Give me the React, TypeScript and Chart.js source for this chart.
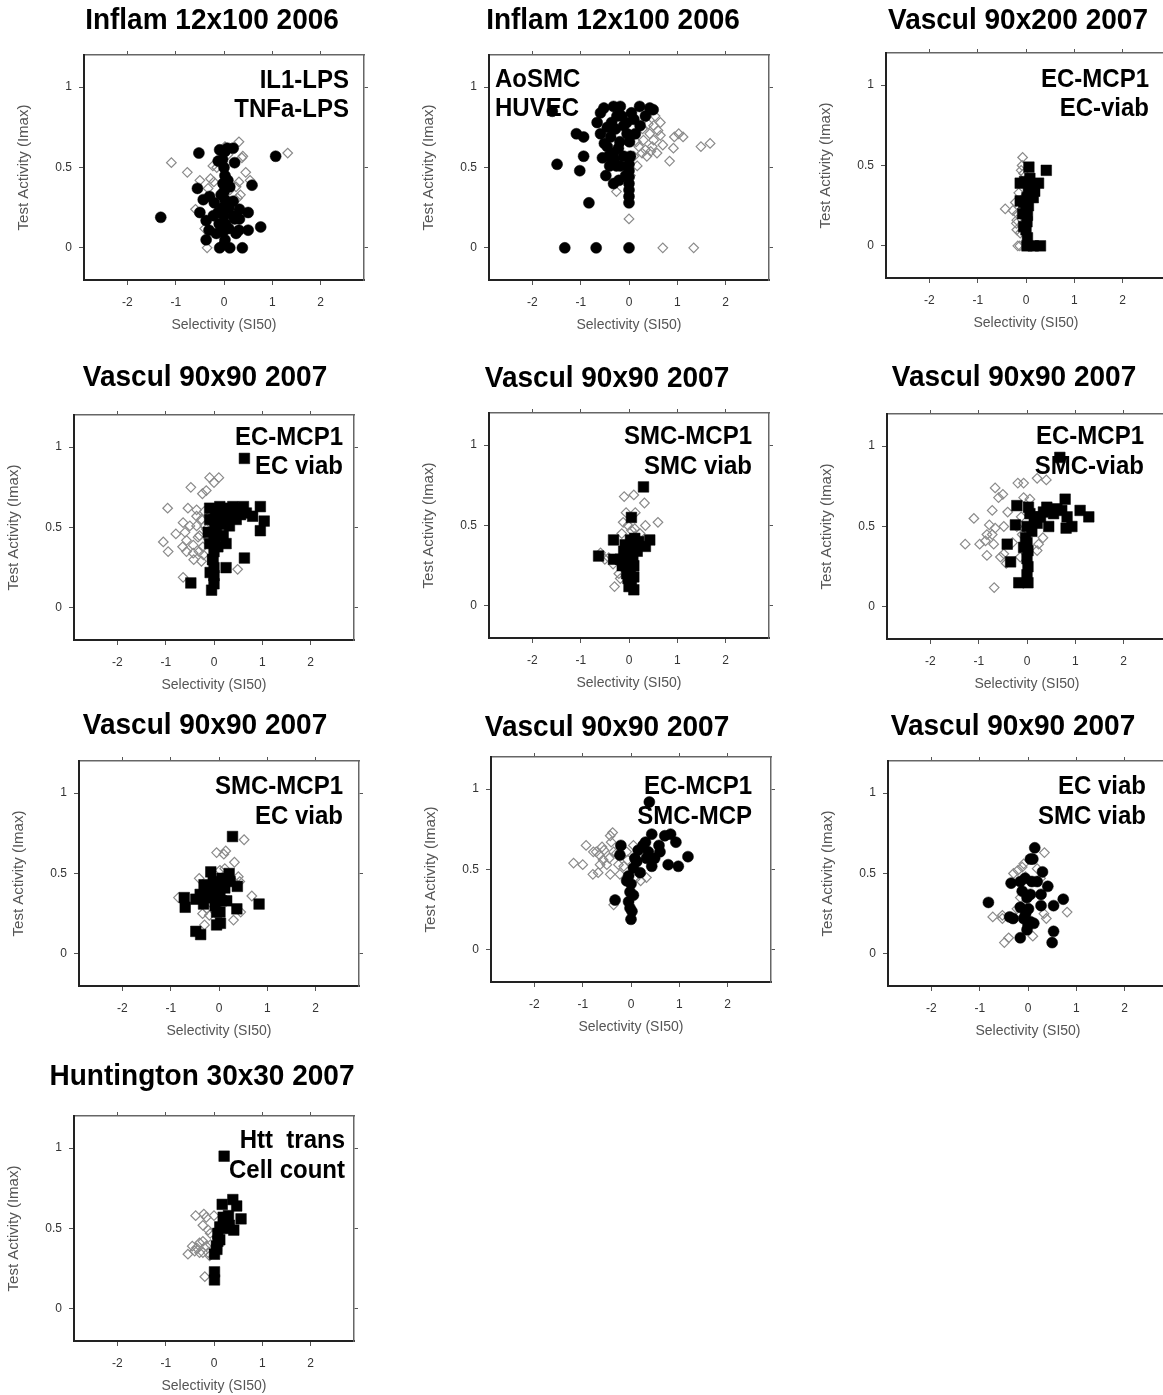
import React, { useEffect, useRef } from "react";
import { Chart, registerables } from "chart.js";

Chart.register(...registerables);

const FONT = "'Liberation Sans', Arial, Helvetica, sans-serif";

// ---------------- data ----------------
const xTickValues = [-2, -1, 0, 1, 2];
const yTickValues = [0, 0.5, 1];
const xLimits = [-2.9, 2.9];
const yLimits = [-0.2, 1.2];
const xAxisTitle = "Selectivity (SI50)";
const yAxisTitle = "Test Activity (Imax)";

const panelTitles = [
  "Inflam 12x100 2006",
  "Inflam 12x100 2006",
  "Vascul 90x200 2007",
  "Vascul 90x90 2007",
  "Vascul 90x90 2007",
  "Vascul 90x90 2007",
  "Vascul 90x90 2007",
  "Vascul 90x90 2007",
  "Vascul 90x90 2007",
  "Huntington 30x30 2007",
];

const panelLabels = [
  ["IL1-LPS", "TNFa-LPS"],
  ["AoSMC", "HUVEC"],
  ["EC-MCP1", "EC-viab"],
  ["EC-MCP1", "EC viab"],
  ["SMC-MCP1", "SMC viab"],
  ["EC-MCP1", "SMC-viab"],
  ["SMC-MCP1", "EC viab"],
  ["EC-MCP1", "SMC-MCP"],
  ["EC viab", "SMC viab"],
  ["Htt  trans", "Cell count"],
];

const filledMarkers = ["circle", "circle", "rect", "rect", "rect", "rect", "rect", "circle", "circle", "rect"];

const p1Filled = [[-1.31,0.19],[1.07,0.57],[-0.52,0.59],[0.58,0.39],[-0.55,0.37],[0.76,0.13],[0.38,0],[0.5,0.22],[0.5,0.11],[0.31,0.11],[0.32,0.24],[0.19,0.29],[0.19,0.62],[0.22,0.53],[-0.12,0.54],[-0.09,0.61],[-0.43,0.3],[-0.3,0.32],[-0.5,0.22],[-0.37,0.17],[-0.31,0.11],[-0.16,0.09],[0.12,0.38],[0.19,0.2],[0.22,0.18],[-0.37,0.05],[0.32,0.18],[0.12,0],[-0.09,0],[0,0.02],[0.02,0.05],[-0.02,0.1],[0.03,0.15],[0,0.2],[-0.03,0.25],[0.02,0.3],[0,0.35],[-0.02,0.4],[0.02,0.45],[0,0.5],[-0.03,0.55],[0.02,0.6],[0.07,0.62],[-0.12,0.22],[0.1,0.12],[-0.2,0.28],[0.1,0.25],[-0.1,0.15],[-0.22,0.2],[0.08,0.42],[-0.06,0.33],[0.25,0.09]];
const p1Open = [[-1.09,0.53],[-0.76,0.47],[-0.5,0.42],[0.31,0.66],[1.32,0.59],[0.39,0.57],[0.45,0.47],[0.54,0.42],[0.31,0.41],[0.34,0.33],[0.12,0.36],[-0.59,0.24],[-0.4,0.12],[-0.35,0],[0.1,0],[-0.21,0.41],[-0.33,0.37],[-0.23,0.51],[0.02,0.63],[0.08,0.58],[0.37,0.56],[0.25,0.38],[-0.28,0.43],[0.28,0.31],[0.05,0.13],[-0.15,0.5]];

const p2Filled = [[-1.49,0.52],[-1.33,0],[-0.68,0],[0,0],[-0.83,0.28],[-0.32,0.4],[-1.02,0.48],[-0.94,0.57],[-1.09,0.71],[-0.94,0.69],[-0.52,0.87],[-0.32,0.88],[-0.18,0.88],[0.22,0.88],[0.43,0.87],[0.5,0.86],[0.34,0.82],[-0.66,0.78],[-0.59,0.71],[-0.45,0.63],[-0.42,0.57],[-0.4,0.51],[-0.26,0.51],[-0.19,0.66],[0.01,0.66],[0.13,0.71],[-0.11,0.76],[-0.36,0.78],[0.03,0.57],[-0.07,0.45],[0,0.28],[0,0.32],[0,0.36],[0,0.4],[0,0.44],[0,0.48],[0,0.52],[-0.18,0.51],[0.1,0.8],[-0.25,0.82],[-0.59,0.84],[-0.51,0.65],[-0.32,0.59],[-0.04,0.71],[0.23,0.76],[-0.11,0.57],[-0.21,0.42],[-0.45,0.75],[-0.38,0.69],[-0.28,0.74],[-0.15,0.82],[-0.05,0.78],[0.05,0.84],[-0.55,0.56],[-0.48,0.45],[-0.3,0.55],[-0.22,0.62],[-1.59,0.85]];
const p2Open = [[-0.26,0.35],[0,0.18],[0.7,0],[1.34,0],[1.49,0.63],[1.68,0.65],[1.12,0.69],[1.03,0.71],[0.92,0.62],[0.84,0.54],[0.94,0.69],[0.7,0.64],[0.65,0.7],[0.65,0.78],[0.58,0.59],[0.48,0.63],[0.37,0.57],[0.17,0.51],[0.1,0.57],[0.37,0.82],[0.51,0.76],[0.3,0.67],[0.43,0.71],[0.2,0.63],[0.03,0.45],[0.51,0.67],[0.34,0.61],[0.27,0.59],[0.54,0.82],[0.45,0.6],[0.6,0.73],[0.28,0.74],[0.4,0.77],[0.15,0.66]];

const p3Filled = [[0.02,0],[0.15,0],[0.3,0],[0.42,0.47],[0.06,0.49],[-0.12,0.39],[0.26,0.39],[0.09,0.37],[0.09,0.31],[-0.12,0.28],[0.03,0.05],[0,0.1],[0.02,0.15],[0.03,0.19],[0,0.22],[-0.05,0.27],[0.02,0.3],[0.05,0.34],[0.12,0.36],[0.18,0.34],[0.15,0.3],[-0.03,0.4],[0.08,0.42],[-0.07,0.2],[-0.05,0.12],[0.05,0.25]];
const p3Open = [[-0.07,0.55],[-0.43,0.23],[-0.27,0.22],[-0.17,0],[-0.22,0.27],[-0.19,0.16],[-0.19,0.1],[-0.2,0.14],[-0.05,0.45],[-0.12,0.08],[-0.13,0],[-0.1,0.47],[-0.15,0.33],[-0.18,0.2],[-0.08,0.5]];

const p4Filled = [[-0.48,0.155],[-0.05,0.11],[0.63,0.93],[0.25,0.25],[0.63,0.31],[0.96,0.48],[1.04,0.54],[0.96,0.63],[0.8,0.57],[0.61,0.63],[0.39,0.63],[0.12,0.63],[-0.09,0.62],[0.25,0.57],[0.46,0.55],[0.32,0.51],[0.25,0.4],[0.19,0.45],[0.05,0.49],[-0.09,0.55],[-0.12,0.47],[-0.09,0.4],[0,0.15],[0,0.2],[0,0.25],[-0.03,0.3],[0,0.35],[0.03,0.4],[0,0.45],[0.02,0.5],[0,0.55],[0.03,0.6],[0.12,0.59],[0.39,0.59],[-0.02,0.3],[0.67,0.59],[0.2,0.62],[0.5,0.62],[0.15,0.52],[0.3,0.6],[0.55,0.58],[0.1,0.55],[0.08,0.38],[-0.08,0.22]];
const p4Open = [[-0.09,0.81],[0.1,0.81],[0,0.78],[-0.16,0.73],[-0.24,0.71],[-0.48,0.75],[-0.96,0.62],[-0.54,0.62],[-0.36,0.61],[-1.05,0.41],[-0.95,0.35],[-0.79,0.46],[-0.64,0.53],[-0.6,0.47],[-0.57,0.42],[-0.65,0.38],[-0.43,0.34],[-0.42,0.3],[-0.26,0.29],[-0.64,0.19],[0.49,0.24],[-0.3,0.45],[-0.36,0.51],[-0.23,0.38],[-0.36,0.57],[-0.26,0.55],[-0.19,0.51],[-0.5,0.51],[-0.43,0.39],[-0.31,0.35],[-0.57,0.35],[-0.16,0.49],[-0.2,0.6],[-0.33,0.44],[-0.12,0.43],[-0.22,0.33]];

const p5Filled = [[-0.63,0.31],[-0.32,0.41],[-0.32,0.29],[0.3,0.74],[0.05,0.55],[0.43,0.41],[0.34,0.37],[0.2,0.4],[-0.18,0.29],[0.03,0.41],[0,0.12],[0.05,0.14],[-0.02,0.17],[0.03,0.2],[0,0.23],[-0.03,0.27],[0.02,0.3],[0,0.34],[0.05,0.38],[0.1,0.1],[-0.11,0.34],[0.17,0.34],[0.1,0.25],[-0.14,0.25],[-0.08,0.38],[0.12,0.42],[-0.05,0.32],[0.08,0.3],[0.1,0.18],[-0.05,0.2]];
const p5Open = [[-0.3,0.12],[-0.33,0.26],[-0.1,0.68],[0.1,0.69],[0.32,0.64],[-0.06,0.58],[0.13,0.58],[-0.12,0.52],[0.34,0.5],[0.6,0.52],[0.12,0.48],[-0.59,0.33],[-0.5,0.29],[0.23,0.45],[-0.02,0.5],[-0.21,0.2],[-0.18,0.17],[-0.15,0.45],[-0.42,0.3],[0.05,0.47]];

const p6Filled = [[0.68,0.93],[-0.41,0.39],[-0.34,0.28],[-0.17,0.15],[0.02,0.15],[-0.24,0.51],[-0.21,0.63],[0.03,0.62],[0.06,0.58],[0,0.5],[-0.03,0.43],[-0.07,0.37],[0,0.2],[0.02,0.25],[0,0.3],[0.02,0.35],[0,0.4],[0.21,0.52],[0.28,0.56],[0.41,0.62],[0.45,0.5],[0.55,0.58],[0.62,0.61],[0.79,0.67],[0.72,0.6],[0.83,0.56],[0.93,0.5],[0.81,0.49],[1.1,0.6],[1.28,0.56],[0.34,0.59],[0.24,0.56],[0.5,0.6],[0.15,0.55],[0.1,0.47]];
const p6Open = [[-1.1,0.55],[-1.28,0.39],[-0.98,0.39],[-0.83,0.32],[-0.68,0.12],[-0.66,0.74],[-0.59,0.68],[-0.5,0.7],[-0.72,0.6],[-0.78,0.51],[-0.83,0.45],[-0.86,0.41],[-0.69,0.39],[-0.72,0.45],[-0.66,0.49],[-0.48,0.5],[-0.48,0.33],[-0.4,0.59],[-0.43,0.27],[-0.19,0.77],[-0.07,0.77],[0.21,0.8],[0.4,0.79],[-0.07,0.68],[0.06,0.67],[-0.12,0.56],[0.33,0.43],[0.21,0.35],[0.24,0.39],[-0.14,0.31],[-0.55,0.31],[-0.21,0.5],[-0.3,0.4],[-0.1,0.45]];

const p7Filled = [[0.28,0.73],[0.83,0.31],[-0.72,0.35],[-0.7,0.29],[-0.48,0.14],[-0.38,0.12],[-0.17,0.51],[-0.31,0.43],[-0.48,0.34],[0.37,0.28],[0.38,0.42],[0.21,0.5],[0.06,0.47],[-0.05,0.42],[-0.12,0.35],[-0.26,0.35],[-0.32,0.31],[0.02,0.39],[0.16,0.33],[-0.05,0.26],[0.02,0.26],[-0.05,0.18],[0.03,0.19],[-0.19,0.39],[0.12,0.41],[0.23,0.45],[-0.12,0.45],[-0.39,0.37],[0.05,0.33],[-0.08,0.3]];
const p7Open = [[0.52,0.71],[0.68,0.36],[-0.84,0.35],[-0.05,0.63],[0.14,0.64],[0.32,0.57],[-0.41,0.47],[-0.34,0.25],[-0.3,0.18],[0.3,0.21],[0.45,0.26],[0.4,0.48],[0.43,0.45],[0.02,0.52],[0.12,0.53],[-0.2,0.24],[-0.12,0.33],[0.1,0.62],[-0.25,0.28]];

const p8Filled = [[0.38,0.92],[0.43,0.72],[0.7,0.71],[0.82,0.72],[0.93,0.67],[1.18,0.58],[0.98,0.52],[0.77,0.53],[0.58,0.65],[0.6,0.61],[0.43,0.52],[0.32,0.57],[0.25,0.65],[0.15,0.62],[0.12,0.55],[0.05,0.51],[-0.05,0.46],[-0.09,0.43],[-0.02,0.36],[0.05,0.34],[-0.05,0.3],[-0.02,0.26],[0,0.19],[-0.33,0.31],[-0.21,0.65],[-0.23,0.59],[0.19,0.48],[0.36,0.61],[0.49,0.57],[0.3,0.67],[0.08,0.57],[0,0.41],[0.02,0.24]];
const p8Open = [[-1.19,0.54],[-1.0,0.53],[-0.93,0.65],[-0.79,0.47],[-0.72,0.61],[-0.65,0.59],[-0.58,0.56],[-0.56,0.62],[-0.41,0.67],[-0.38,0.73],[-0.43,0.71],[-0.36,0.61],[-0.5,0.53],[-0.43,0.47],[-0.26,0.53],[-0.36,0.28],[-0.23,0.47],[-0.07,0.56],[0.05,0.65],[0.2,0.43],[0.32,0.45],[0.08,0.44],[-0.64,0.53],[-0.78,0.61],[-0.6,0.64],[-0.3,0.6],[-0.09,0.61],[-0.15,0.52],[-0.68,0.48],[-0.45,0.57]];

const p9Filled = [[0.14,0.66],[-0.82,0.32],[-0.35,0.44],[-0.38,0.23],[-0.31,0.22],[-0.16,0.1],[0.5,0.07],[0.53,0.14],[0.53,0.3],[0.73,0.34],[0.41,0.42],[0.3,0.51],[0.05,0.59],[0.1,0.59],[0.27,0.3],[0.27,0.37],[0.19,0.45],[-0.06,0.47],[-0.16,0.45],[-0.12,0.39],[-0.02,0.35],[0.05,0.37],[-0.16,0.29],[0.01,0.28],[-0.09,0.22],[0,0.18],[0.12,0.19],[-0.02,0.15],[0.08,0.45],[-0.05,0.25],[0.05,0.2]];
const p9Open = [[-0.73,0.23],[-0.53,0.24],[-0.53,0.22],[-0.49,0.07],[-0.4,0.1],[0.1,0.11],[0.34,0.63],[0.33,0.25],[0.38,0.22],[0.81,0.26],[-0.3,0.5],[-0.21,0.52],[-0.12,0.54],[-0.09,0.56],[0.19,0.53],[0.26,0.47],[-0.16,0.35],[-0.09,0.3],[-0.23,0.28],[-0.05,0.48]];

const p10Filled = [[0.21,0.95],[0.01,0.23],[0.01,0.18],[0.17,0.65],[0.39,0.68],[0.47,0.64],[0.56,0.56],[0.41,0.49],[0.25,0.54],[0.32,0.52],[0.19,0.57],[0.12,0.51],[0.08,0.47],[0.08,0.42],[0.05,0.39],[0.01,0.34],[0.06,0.37],[0.12,0.43],[0.3,0.58],[0.2,0.5]];
const p10Open = [[-0.54,0.34],[-0.45,0.39],[-0.36,0.38],[-0.38,0.58],[-0.21,0.59],[-0.16,0.57],[0,0.58],[-0.23,0.52],[-0.12,0.49],[-0.08,0.47],[-0.19,0.2],[-0.23,0.42],[-0.16,0.39],[-0.23,0.35],[-0.12,0.35],[-0.3,0.35],[-0.09,0.33],[-0.07,0.4],[-0.3,0.41],[-0.4,0.36]];

const panelFilled = [p1Filled, p2Filled, p3Filled, p4Filled, p5Filled, p6Filled, p7Filled, p8Filled, p9Filled, p10Filled];
const panelOpen = [p1Open, p2Open, p3Open, p4Open, p5Open, p6Open, p7Open, p8Open, p9Open, p10Open];

// ---------------- layout (positions / styles) ----------------
const PAD_L = 84;
const PAD_T = 55;
const PAD_R = 16;
const PAD_B = 60;
const BOX_W = 280;
const BOX_H = 225;
const CANVAS_W = PAD_L + BOX_W + PAD_R;
const CANVAS_H = PAD_T + BOX_H + PAD_B;
const V_STRETCH = 1.1;

const panelBoxes = [
  { left: 84, top: 55 },
  { left: 489, top: 55 },
  { left: 886, top: 53 },
  { left: 74, top: 415 },
  { left: 489, top: 413 },
  { left: 887, top: 414 },
  { left: 79, top: 761 },
  { left: 491, top: 757 },
  { left: 888, top: 761 },
  { left: 74, top: 1116 },
];

const titlePlacement = [
  { dx: 128, dy: -26 },
  { dx: 124, dy: -26 },
  { dx: 132, dy: -24 },
  { dx: 131, dy: -29 },
  { dx: 118, dy: -26 },
  { dx: 127, dy: -28 },
  { dx: 126, dy: -27 },
  { dx: 116, dy: -21 },
  { dx: 125, dy: -26 },
  { dx: 128, dy: -31 },
];

// label line centres (middle baseline), offsets from the plot box
const labelPlacement = [
  { align: "right", dx: -15, dy: [26, 55] },
  { align: "left", dx: 6, dy: [25, 54] },
  { align: "right", dx: -17, dy: [27, 56] },
  { align: "right", dx: -11, dy: [23, 52] },
  { align: "right", dx: -17, dy: [24, 54] },
  { align: "right", dx: -23, dy: [23, 53] },
  { align: "right", dx: -16, dy: [26, 56] },
  { align: "right", dx: -19, dy: [30, 60] },
  { align: "right", dx: -22, dy: [26, 56] },
  { align: "right", dx: -9, dy: [25, 55] },
];

const toPoints = (arr) => arr.map(([x, y]) => ({ x, y }));

function makeScales() {
  const setX = (s) => {
    s.ticks = xTickValues.map((v) => ({ value: v }));
  };
  const setY = (s) => {
    s.ticks = yTickValues.map((v) => ({ value: v }));
  };
  const tickGrid = (len) => ({
    display: true,
    drawOnChartArea: false,
    drawTicks: true,
    tickLength: len,
    color: "#555",
    lineWidth: 1,
  });
  return {
    x: {
      type: "linear",
      position: "bottom",
      min: xLimits[0],
      max: xLimits[1],
      afterBuildTicks: setX,
      afterFit: (s) => {
        s.height = PAD_B;
      },
      grid: tickGrid(5),
      border: { display: true, color: "#222", width: 2 },
      ticks: {
        font: { family: FONT, size: 12 },
        color: "#333",
        padding: 10,
        maxRotation: 0,
        callback: (v) => String(v),
      },
      title: {
        display: true,
        text: xAxisTitle,
        font: { family: FONT, size: 14 },
        color: "#555",
        padding: { top: 0, bottom: 6 },
      },
    },
    x2: {
      type: "linear",
      position: "top",
      min: xLimits[0],
      max: xLimits[1],
      afterBuildTicks: setX,
      afterFit: (s) => {
        s.height = 10;
      },
      grid: tickGrid(4),
      border: { display: true, color: "#666", width: 1.5 },
      ticks: { display: false },
    },
    y: {
      type: "linear",
      position: "left",
      min: yLimits[0],
      max: yLimits[1],
      afterBuildTicks: setY,
      afterFit: (s) => {
        s.width = PAD_L;
      },
      grid: tickGrid(5),
      border: { display: true, color: "#222", width: 2 },
      ticks: {
        font: { family: FONT, size: 12 },
        color: "#333",
        padding: 7,
        callback: (v) => String(v),
      },
      title: {
        display: true,
        text: yAxisTitle,
        font: { family: FONT, size: 15 },
        color: "#555",
        padding: { top: 15, bottom: 0 },
      },
    },
    y2: {
      type: "linear",
      position: "right",
      min: yLimits[0],
      max: yLimits[1],
      afterBuildTicks: setY,
      afterFit: (s) => {
        s.width = 10;
      },
      grid: tickGrid(4),
      border: { display: true, color: "#666", width: 1.5 },
      ticks: { display: false },
    },
  };
}

function Panel({ index }) {
  const ref = useRef(null);
  useEffect(() => {
    const canvas = ref.current;
    if (!canvas) return;
    const tp = titlePlacement[index];
    const lp = labelPlacement[index];
    const shape = filledMarkers[index];
    const textPlugin = {
      id: "panelText",
      afterDraw(chart) {
        const { ctx, chartArea } = chart;
        ctx.save();
        ctx.fillStyle = "#000";
        ctx.textBaseline = "alphabetic";
        ctx.font = `bold 28px ${FONT}`;
        ctx.textAlign = "center";
        ctx.save();
        ctx.translate(chartArea.left + tp.dx, chartArea.top + tp.dy);
        ctx.scale(1, 1.05);
        ctx.fillText(panelTitles[index], 0, 0);
        ctx.restore();
        ctx.font = `bold 24px ${FONT}`;
        ctx.textAlign = lp.align;
        ctx.textBaseline = "middle";
        const x = lp.align === "right" ? chartArea.right + lp.dx : chartArea.left + lp.dx;
        panelLabels[index].forEach((t, k) => {
          ctx.save();
          ctx.translate(x, chartArea.top + lp.dy[k]);
          ctx.scale(1, V_STRETCH);
          ctx.fillText(t, 0, 0);
          ctx.restore();
        });
        ctx.restore();
      },
    };
    const chart = new Chart(canvas, {
      type: "scatter",
      data: {
        datasets: [
          {
            label: panelLabels[index][0],
            data: toPoints(panelFilled[index]),
            pointStyle: shape,
            pointRadius: shape === "rect" ? 7.5 : 5.5,
            pointBackgroundColor: "#000",
            pointBorderColor: "#000",
            pointBorderWidth: 0.5,
            showLine: false,
          },
          {
            label: panelLabels[index][1],
            data: toPoints(panelOpen[index]),
            pointStyle: "rectRot",
            pointRadius: 4.8,
            pointBackgroundColor: "rgba(255,255,255,0)",
            pointBorderColor: "#8a8a8a",
            pointBorderWidth: 1.2,
            showLine: false,
          },
        ],
      },
      options: {
        responsive: false,
        animation: false,
        events: [],
        devicePixelRatio: 1,
        layout: { padding: { left: 0, top: PAD_T - 10, right: PAD_R - 10, bottom: 0 } },
        plugins: {
          legend: { display: false },
          tooltip: { enabled: false },
          title: { display: false },
        },
        scales: makeScales(),
      },
      plugins: [textPlugin],
    });
    return () => chart.destroy();
  }, [index]);

  const box = panelBoxes[index];
  return (
    <div
      style={{
        position: "absolute",
        left: box.left - PAD_L,
        top: box.top - PAD_T,
        width: CANVAS_W,
        height: CANVAS_H,
      }}
    >
      <canvas ref={ref} width={CANVAS_W} height={CANVAS_H} style={{ width: CANVAS_W, height: CANVAS_H, display: "block" }} />
    </div>
  );
}

export default function App() {
  return (
    <>
      <style>{"html,body{margin:0;padding:0;background:#fff;overflow:hidden;}"}</style>
      <div
        style={{
          position: "relative",
          width: 1163,
          height: 1395,
          overflow: "hidden",
          background: "#fff",
          fontFamily: FONT,
        }}
      >
        {panelTitles.map((_, i) => (
          <Panel key={i} index={i} />
        ))}
      </div>
    </>
  );
}
